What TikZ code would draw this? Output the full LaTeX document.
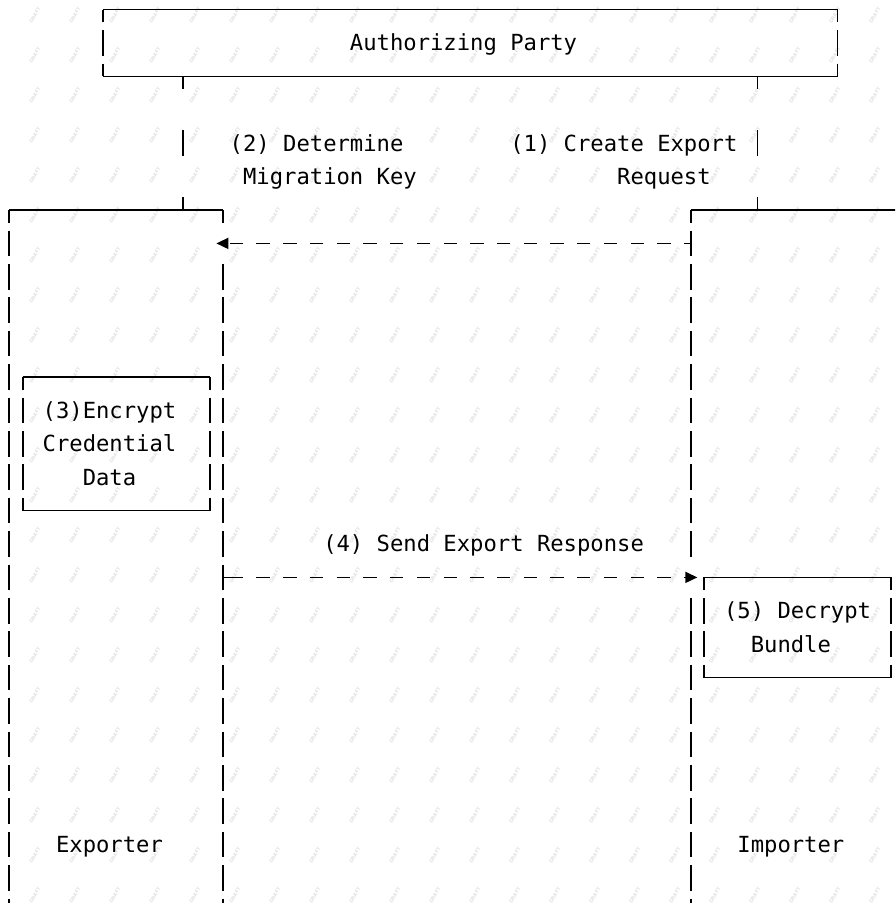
\documentclass[tikz,border=0pt]{standalone}
\usepackage{fontspec}
\setmonofont{DejaVu Sans Mono}
\usetikzlibrary{arrows.meta}
\begin{document}
\begin{tikzpicture}[x=13.36pt,y=-33.4pt,
  hl/.style={line width=1.7pt},
  vw/.style={line width=1.7pt, dash pattern=on 25.7pt off 7.7pt, dash phase=12.85pt},
  vwb/.style={line width=1.7pt, dash pattern=on 25.7pt off 7.7pt, dash phase=29.55pt},
  life/.style={line width=1.7pt, dash pattern=on 25.7pt off 41.1pt, dash phase=12.85pt},
  msg/.style={line width=1.7pt, dash pattern=on 13.36pt off 13.36pt, -{Triangle[length=12pt,width=11pt]}},
  lbl/.style={font=\ttfamily\fontsize{22.19}{26}\selectfont, inner sep=0pt, anchor=base},
  wm/.style={font=\sffamily\bfseries\fontsize{5}{5}\selectfont, text=black!14, rotate=60, inner sep=0pt}]
\path[use as bounding box] (-0.6961,-0.2874) rectangle (66.2949,26.7485);
\clip (-0.6961,-0.2874) rectangle (66.2949,26.7485);
% watermark
\foreach \i in {0,...,22}{\foreach \j in {0,...,22}{
  \node[wm] at ({(25.7+40*\i)*0.074850},{(5.4+40*\j)*0.029940}) {DRAFT};}}
% Authorizing Party box
\coordinate (apnw) at (7,0); \coordinate (apne) at (62,0);
\coordinate (apsw) at (7,2); \coordinate (apse) at (62,2);
\draw[hl] (apnw) -- (apne); \draw[hl] (apsw) -- (apse);
\draw[vw] (apnw) -- (apsw); \draw[vw] (apne) -- (apse);
\node[lbl] (ap) at (34,1.237) {Authorizing Party};
% lifelines from Authorizing Party
\coordinate (l1t) at (13,2); \coordinate (l1b) at (13,6);
\coordinate (l2t) at (56,2); \coordinate (l2b) at (56,6);
\draw[life] (l1t) -- (l1b); \draw[life] (l2t) -- (l2b);
\node[lbl] (t2a) at (23,4.237) {(2) Determine};
\node[lbl] (t2b) at (24,5.237) {Migration Key};
\node[lbl] (t1a) at (46,4.237) {(1) Create Export};
\node[lbl] (t1b) at (49,5.237) {Request};
% Exporter box
\coordinate (exnw) at (0,6); \coordinate (exne) at (16,6);
\draw[hl] (exnw) -- (exne);
\draw[vw] (exnw) -- (0,27.5);
\draw[vw] (exne) -- (16,6.5);
\draw[vwb] (16,7.5) -- (16,27.5);
\node[lbl] (ex) at (7.5,25.237) {Exporter};
% Importer box
\coordinate (imnw) at (51,6);
\draw[hl] (imnw) -- (67.5,6);
\draw[vw] (imnw) -- (51,16.5);
\draw[vwb] (51,17.5) -- (51,27.5);
\node[lbl] (im) at (58.5,25.237) {Importer};
% Encrypt box
\coordinate (ennw) at (1,11); \coordinate (enne) at (15,11);
\coordinate (ensw) at (1,15); \coordinate (ense) at (15,15);
\draw[hl] (ennw) -- (enne); \draw[hl] (ensw) -- (ense);
\draw[vw] (ennw) -- (ensw); \draw[vw] (enne) -- (ense);
\node[lbl] (en1) at (7.5,12.237) {(3)Encrypt};
\node[lbl] (en2) at (7.5,13.237) {Credential};
\node[lbl] (en3) at (7.5,14.237) {Data};
% Decrypt box
\coordinate (denw) at (52,17); \coordinate (dene) at (66,17);
\coordinate (desw) at (52,20); \coordinate (dese) at (66,20);
\draw[hl] (denw) -- (dene); \draw[hl] (desw) -- (dese);
\draw[vw] (denw) -- (desw); \draw[vw] (dene) -- (dese);
\node[lbl] (de1) at (59,18.237) {(5) Decrypt};
\node[lbl] (de2) at (58.5,19.237) {Bundle};
% message 1: Importer -> Exporter
\coordinate (m1s) at (51,7); \coordinate (m1e) at (15.5,7);
\draw[msg, dash phase=6.68pt] (m1s) -- (m1e);
% message 4: Exporter -> Importer
\coordinate (m4s) at (16,17); \coordinate (m4m) at (16.5,17); \coordinate (m4e) at (51.5,17);
\draw[hl] (m4s) -- (m4m);
\draw[msg] (m4m) -- (m4e);
\node[lbl] (t4) at (35.5,16.237) {(4) Send Export Response};
\end{tikzpicture}
\end{document}
